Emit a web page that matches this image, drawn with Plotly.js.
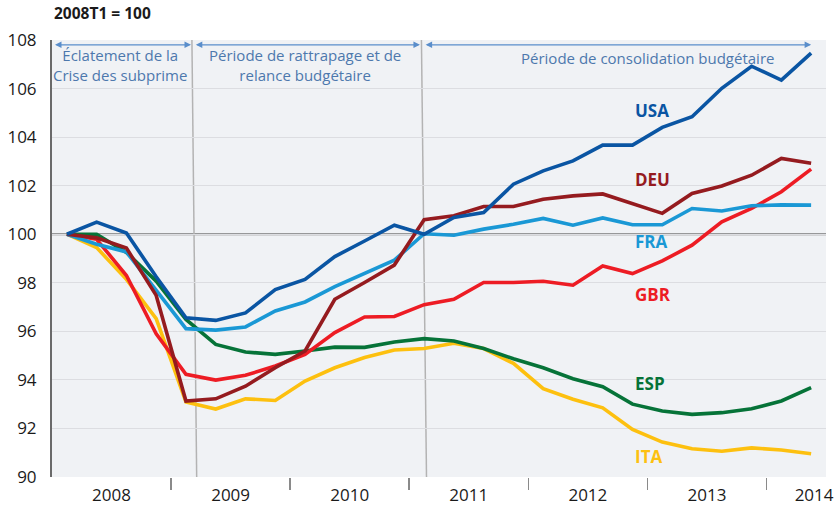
<!DOCTYPE html>
<html>
<head>
<meta charset="utf-8">
<script src="https://cdn.plot.ly/plotly-3.0.1.min.js"></script>
<style>html,body{margin:0;padding:0;background:#fff;}#chart{width:840px;height:505px;}</style>
</head>
<body>
<div id="chart"></div>
<script>
// Quarters 2008T1 .. 2014T2
const quarters = ["2008T1","2008T2","2008T3","2008T4","2009T1","2009T2","2009T3","2009T4",
  "2010T1","2010T2","2010T3","2010T4","2011T1","2011T2","2011T3","2011T4",
  "2012T1","2012T2","2012T3","2012T4","2013T1","2013T2","2013T3","2013T4","2014T1","2014T2"];

const usa = [100, 100.5, 100.05, 98.25, 96.56, 96.45, 96.76, 97.72, 98.14, 99.08, 99.72, 100.37,
  100.0, 100.69, 100.89, 102.06, 102.61, 103.02, 103.67, 103.67, 104.4, 104.84, 106.01, 106.92, 106.35, 107.46];
const deu = [100, 99.85, 99.43, 97.48, 93.13, 93.22, 93.74, 94.5, 95.19, 97.32, 98.01, 98.73,
  100.6, 100.76, 101.14, 101.14, 101.44, 101.58, 101.66, 101.27, 100.86, 101.68, 101.99, 102.43, 103.12, 102.92];
const fra = [100, 99.59, 99.27, 97.72, 96.11, 96.05, 96.18, 96.84, 97.21, 97.84, 98.39, 98.93,
  100.02, 99.96, 100.21, 100.41, 100.65, 100.37, 100.67, 100.39, 100.39, 101.06, 100.96, 101.17, 101.21, 101.2];
const gbr = [100, 99.79, 98.3, 95.9, 94.23, 93.99, 94.19, 94.57, 95.05, 95.95, 96.59, 96.61,
  97.1, 97.32, 98.01, 98.01, 98.06, 97.9, 98.69, 98.38, 98.9, 99.55, 100.51, 101.06, 101.75, 102.68];
const esp = [100, 100.0, 99.25, 98.07, 96.49, 95.46, 95.15, 95.05, 95.19, 95.35, 95.34, 95.56,
  95.7, 95.6, 95.29, 94.87, 94.5, 94.05, 93.72, 93.0, 92.72, 92.58, 92.65, 92.81, 93.13, 93.68];
const ita = [100, 99.45, 98.14, 96.52, 93.09, 92.8, 93.22, 93.15, 93.95, 94.5, 94.92, 95.23,
  95.29, 95.51, 95.29, 94.68, 93.64, 93.2, 92.85, 91.96, 91.44, 91.16, 91.06, 91.2, 91.11, 90.96];

const seriesNames = ["USA", "DEU", "FRA", "GBR", "ESP", "ITA"];
const yearLabels = ["2008", "2009", "2010", "2011", "2012", "2013", "2014"];
const periodLabels = ["Éclatement de la<br>Crise des subprime",
  "Période de rattrapage et de<br>relance budgétaire",
  "Période de consolidation budgétaire"];

const colors = {USA: "#0a55a3", DEU: "#951b1f", FRA: "#1a98d5", GBR: "#ed1c24", ESP: "#067338", ITA: "#fdc00f"};
const dataBy = {USA: usa, DEU: deu, FRA: fra, GBR: gbr, ESP: esp, ITA: ita};
const xs = quarters.map((q, i) => i);

const order = ["ITA", "ESP", "GBR", "FRA", "DEU", "USA"];
const traces = order.map(n => ({
  x: xs, y: dataBy[n], type: "scatter", mode: "lines", name: n,
  line: {color: colors[n], width: 3.6}, hoverinfo: "skip"
}));

const labelY = {USA: 105.11, DEU: 102.27, FRA: 99.71, GBR: 97.53, ESP: 93.84, ITA: 90.85};
const font = "Open Sans, Noto Sans, sans-serif";
const annotations = seriesNames.map(n => ({
  x: 19.0, y: labelY[n], xref: "x", yref: "y", text: "<b>" + n + "</b>", showarrow: false,
  xanchor: "left", yanchor: "middle", font: {family: font, size: 17, color: colors[n]}
}));

// period arrows
const arrowCol = "#5a8ecb";
const arrows = [[-0.45, 4.17], [4.28, 11.86], [12.0, 25.0]];
arrows.forEach(a => annotations.push({
  x: a[1], y: 107.8, ax: a[0], ay: 107.8, xref: "x", yref: "y", axref: "x", ayref: "y",
  text: "", showarrow: true, arrowside: "end+start", arrowhead: 2, arrowsize: 1, arrowwidth: 1.3,
  arrowcolor: arrowCol, standoff: 0, startstandoff: 0
}));
const periodPos = [[1.79, 106.95], [8.0, 106.95], [19.5, 107.26]];
periodLabels.forEach((t, i) => annotations.push({
  x: periodPos[i][0], y: periodPos[i][1], xref: "x", yref: "y", text: t, showarrow: false,
  xanchor: "center", yanchor: "middle", align: "center",
  font: {family: font, size: 15, color: "#4d78ad"}
}));
// unit title
annotations.push({x: 0, xref: "paper", y: 1, yref: "paper", yshift: 27, xshift: 0, text: "<b>2008T1 = 100</b>",
  showarrow: false, xanchor: "left", yanchor: "middle", font: {family: font, size: 15.5, color: "#1a1a1a"}});

const shapes = [
  {type: "line", xref: "paper", yref: "y", x0: 0, x1: 1, y0: 100, y1: 100, line: {color: "#7a7a7a", width: 2}, layer: "below"},
  {type: "line", xref: "x", yref: "paper", x0: 4.2, x1: 4.36, y0: 1, y1: 0, line: {color: "#b3b3b3", width: 1.5}, layer: "below"},
  {type: "line", xref: "x", yref: "paper", x0: 11.91, x1: 12.08, y0: 1, y1: 0, line: {color: "#b3b3b3", width: 1.5}, layer: "below"}
];

const layout = {
  width: 840, height: 505,
  margin: {l: 52, r: 14, t: 40, b: 28},
  paper_bgcolor: "#ffffff", plot_bgcolor: "#f0f2f5",
  showlegend: false, hovermode: false,
  font: {family: font, color: "#1a1a1a"},
  xaxis: {
    range: [-0.5, 25.5], showgrid: false, zeroline: false, showline: false,
    tickmode: "array", tickvals: [1.5, 5.5, 9.5, 13.5, 17.5, 21.5, 25.1], ticktext: yearLabels,
    ticks: "", tickfont: {size: 17, color: "#1a1a1a"}, ticklabelstandoff: 6,
    minor: {tickmode: "array", tickvals: [3.5, 7.5, 11.5, 15.5, 19.5, 23.5], ticks: "outside", ticklen: 12, tickwidth: 1.5, tickcolor: "#8a8a8a", showgrid: false},
    fixedrange: true
  },
  yaxis: {
    range: [90, 108], tickmode: "linear", tick0: 90, dtick: 2,
    showgrid: true, gridcolor: "#dcdde1", gridwidth: 1, zeroline: false,
    showline: true, linecolor: "#6a6a6a", linewidth: 2,
    ticks: "", tickfont: {size: 17, color: "#1a1a1a"}, ticklabelstandoff: 10,
    fixedrange: true
  },
  shapes: shapes,
  annotations: annotations
};

Plotly.newPlot("chart", traces, layout, {staticPlot: true, displayModeBar: false});
</script>
</body>
</html>
